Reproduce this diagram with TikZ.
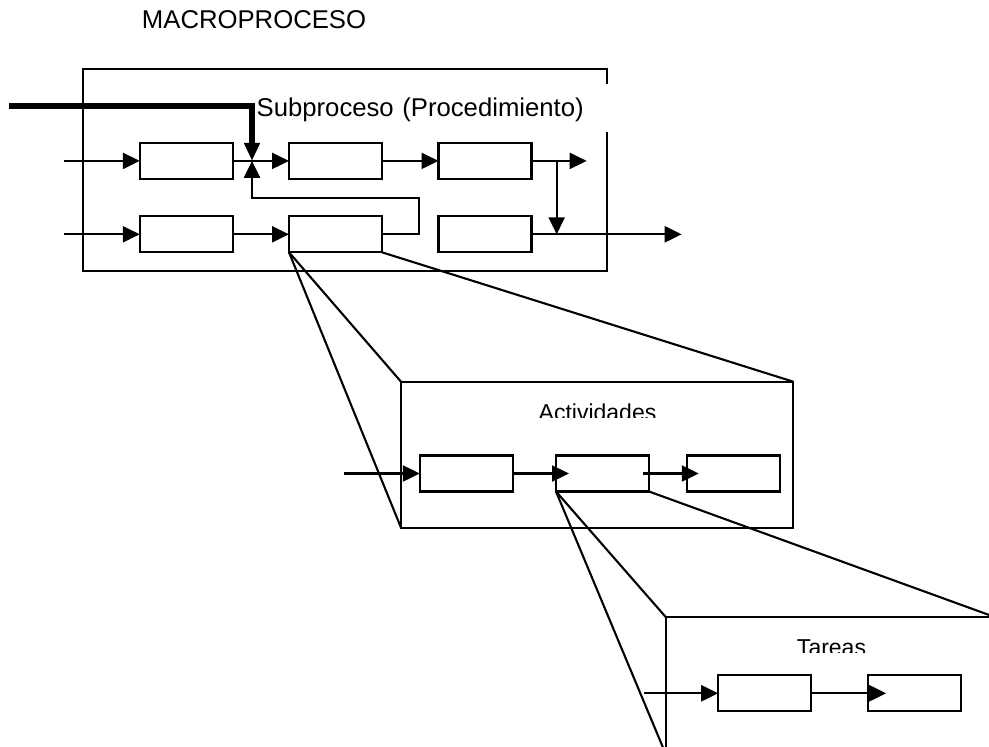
\documentclass[tikz,border=0pt]{standalone}
\usepackage{fontspec}
\setmainfont{Liberation Sans}
\usetikzlibrary{arrows.meta,calc}

\begin{document}
\begin{tikzpicture}[x=1pt,y=-1pt,
  line width=2.3pt,
  stage/.style={draw, line width=2.3pt, rectangle, inner sep=0pt, outer sep=0pt, anchor=north west},
  cell/.style={draw, line width=2.3pt, rectangle, inner sep=0pt, outer sep=0pt, minimum width=93pt, minimum height=36pt},
  flow/.style={line width=2.3pt, -{Triangle[length=17pt,width=16pt]}},
  mainflow/.style={line width=6pt, -{Triangle[length=18pt,width=15pt]}},
  zoomline/.style={line width=2.1pt},
  bigtitle/.style={font=\fontsize{25.7}{30}\selectfont, inner sep=0pt},
  smalltitle/.style={font=\fontsize{23}{27}\selectfont, inner sep=0pt, anchor=base},
]
\useasboundingbox (0,0) rectangle (989,747);
\clip (0,0) rectangle (989,747);

% title
\node[bigtitle, anchor=base west] (macro) at (140.8,28.3) {MACROPROCESO};

% outer frames of the three levels
\node[stage, minimum width=523.7pt, minimum height=201.4pt] (sub) at (83.3,69.3) {};
\node[stage, minimum width=392.3pt, minimum height=146pt] (act) at (401,381.7) {};
\node[stage, minimum width=329pt, minimum height=137pt] (tar) at (665.7,617) {};

% subprocess caption on a white field
\node[bigtitle, anchor=north west, fill=white, text width=356pt, align=left,
      text height=32pt, text depth=16pt] (subtitle) at (255.5,83) {Subproceso (Procedimiento)};

% subprocess steps
\node[cell] (A) at (186.3,160.9) {};
\node[cell] (B) at (335.5,160.9) {};
\node[cell] (C) at (485,160.9) {};
\node[cell] (D) at (186.3,234.3) {};
\node[cell] (E) at (335.5,234.3) {};
\node[cell] (F) at (485,234.3) {};

\coordinate (in1) at (64,160.9);
\coordinate (in2) at (64,234.3);
\coordinate (join) at (252,160.9);
\coordinate (fbR) at (419.3,197.7);
\coordinate (br) at (556.7,160.9);
\coordinate (out1) at (586.7,160.9);
\coordinate (out2) at (681.7,234.3);
\coordinate (mainin) at (9.3,105.7);

\draw[flow] (in1) -- (A.west);
\draw[flow] (A.east) -- (B.west);
\draw[flow] (B.east) -- (C.west);
\draw[flow] (C.east) -- (out1);
\draw[flow] (br) -- (br |- F.east);
\draw[flow] (in2) -- (D.west);
\draw[flow] ($(D.east)+(1.5,0)$) -- (E.west);
\draw[flow] (F.east) -- (out2);
\draw[flow] (E.east) -| (fbR) -| (join);
\draw[mainflow] (mainin) -| (join);

% activities
\begin{scope}
  \clip (401,395) rectangle (793,417);
  \node[smalltitle] (acttitle) at (597.5,420.5) {Actividades};
\end{scope}
\node[cell] (a1) at (466.3,473.5) {};
\node[cell] (a2) at (602.5,473.5) {};
\node[cell] (a3) at (733.3,473.5) {};
\coordinate (ain) at (344,473.5);
\draw[flow] (ain) -- (a1.west);
\draw[flow] (a1.east) -- ($(a2.west)+(13,0)$);
\draw[flow] ($(a2.east)+(-6,0)$) -- ($(a3.west)+(12,0)$);

% tasks
\begin{scope}
  \clip (665.7,630) rectangle (989,652.5);
  \node[smalltitle] (tartitle) at (831.5,655.5) {Tareas};
\end{scope}
\node[cell] (t1) at (764.7,693.3) {};
\node[cell] (t2) at (914.7,693.3) {};
\coordinate (tin) at (644,693.3);
\draw[flow] (tin) -- (t1.west);
\draw[flow] (t1.east) -- ($(t2.west)+(18,0)$);

% zoom-in guide lines
\draw[zoomline] (E.south west) -- (act.north west);
\draw[zoomline] (E.south west) -- (act.south west);
\draw[zoomline] (E.south east) -- (act.north east);
\draw[zoomline] (a2.south west) -- (tar.north west);
\draw[zoomline] (a2.south west) -- (tar.south west);
\draw[zoomline] (a2.south east) -- (tar.north east);
\end{tikzpicture}
\end{document}
